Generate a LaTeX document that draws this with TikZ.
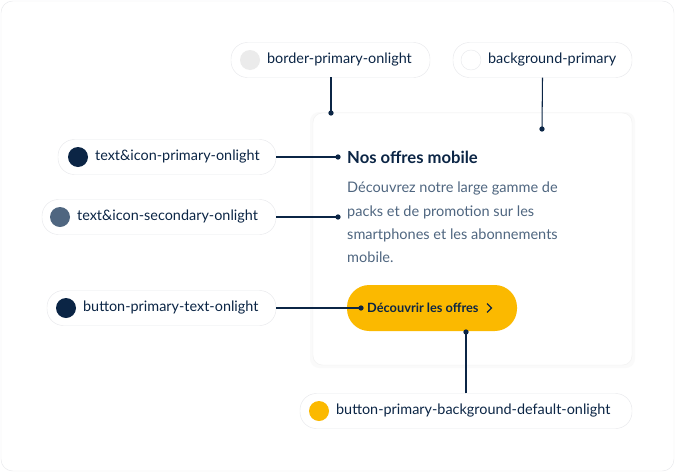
\documentclass[tikz,border=0pt]{standalone}
\usepackage{fontspec}
\setmainfont{Lato}
\usetikzlibrary{positioning}
\definecolor{navy}{HTML}{0B2545}
\definecolor{slate}{HTML}{4F6680}
\definecolor{gold}{HTML}{FBB900}
\definecolor{edge}{HTML}{E8E9EC}
\tikzset{
    pill/.style={draw=edge, fill=white, rounded corners=14pt, minimum height=1.05cm, inner sep=0pt},
    swatch/.style={circle, minimum size=0.6cm, inner sep=0pt},
    tag/.style={font=\fontsize{12.3}{14}\selectfont, text=navy, anchor=west},
    wire/.style={navy, line width=0.9pt},
    pin/.style={circle, fill=navy, minimum size=4.5pt, inner sep=0pt},
}
\begin{document}
\begin{tikzpicture}[x=0.03cm, y=-0.03cm]
    \useasboundingbox (0,0) rectangle (675,472);
    \draw[edge, fill=white, rounded corners=10pt] (1,1) rectangle (674,471);
    % card
    \fill[black!2, rounded corners=8pt] (310,112) rectangle (635,368);
    \draw[black!5, fill=white, rounded corners=8pt] (313,113) rectangle (632,365);
    % pills
    \node[pill, minimum width=199*0.03cm] (pb) at (330.5,60) {};
    \node[swatch, fill=black!8] (sb) at (250,60) {};
    \node[tag] at (263,60) {border-primary-onlight};
    \node[pill, minimum width=179*0.03cm] (pg) at (542.5,60) {};
    \node[swatch, draw=edge, fill=white] (sg) at (471,60) {};
    \node[tag] at (484,60) {background-primary};
    \node[pill, minimum width=218*0.03cm] (pt) at (167,157) {};
    \node[swatch, fill=navy] (st) at (78,157) {};
    \node[tag] at (91,157) {text\&icon-primary-onlight};
    \node[pill, minimum width=234*0.03cm] (ps) at (159,217) {};
    \node[swatch, fill=slate] (ss) at (60,217) {};
    \node[tag] at (73,217) {text\&icon-secondary-onlight};
    \node[pill, minimum width=229*0.03cm] (pbt) at (161.5,308) {};
    \node[swatch, fill=navy] (sbt) at (66,308) {};
    \node[tag] at (79,308) {button-primary-text-onlight};
    \node[pill, minimum width=332*0.03cm] (pbg) at (466,411) {};
    \node[swatch, fill=gold] (sbg) at (319,411) {};
    \node[tag] at (332,411) {button-primary-background-default-onlight};
    % card content
    \node[anchor=west, text=navy, font=\fontsize{14.2}{16}\selectfont\bfseries, inner sep=0pt] (title) at (347,157) {Nos offres mobile};
    \node[anchor=north west, text=slate, font=\fontsize{12.4}{19.7}\selectfont, align=left, inner sep=0pt] (body) at (347,182)
        {Découvrez notre large gamme de\\packs et de promotion sur les\\smartphones et les abonnements\\mobile.};
    \node[fill=gold, rounded corners=19pt, minimum width=170*0.03cm, minimum height=46*0.03cm] (btn) at (432,308) {};
    \node[anchor=west, text=navy, font=\fontsize{10.9}{12}\selectfont\bfseries, inner sep=0pt] (btxt) at (367,308) {Découvrir les offres};
    \draw[navy, line width=1pt] (487,303.5) -- (491.5,308) -- (487,312.5);
    % connectors
    \coordinate (cb) at (331,113);
    \coordinate (cg) at (542,129);
    \coordinate (ct) at (338,157);
    \coordinate (cs) at (338,217);
    \coordinate (cbt) at (361,308);
    \coordinate (cbg) at (466,332);
    \draw[wire] (331,77) -- (cb); \node[pin] at (cb) {};
    \draw[wire] (pg.south) -- (cg); \node[pin] at (cg) {};
    \draw[wire] (pt.east) -- (ct); \node[pin] at (ct) {};
    \draw[wire] (ps.east) -- (cs); \node[pin] at (cs) {};
    \draw[wire] (pbt.east) -- (cbt); \node[pin] at (cbt) {};
    \draw[wire] (pbg.north) -- (cbg); \node[pin] at (cbg) {};
\end{tikzpicture}
\end{document}
